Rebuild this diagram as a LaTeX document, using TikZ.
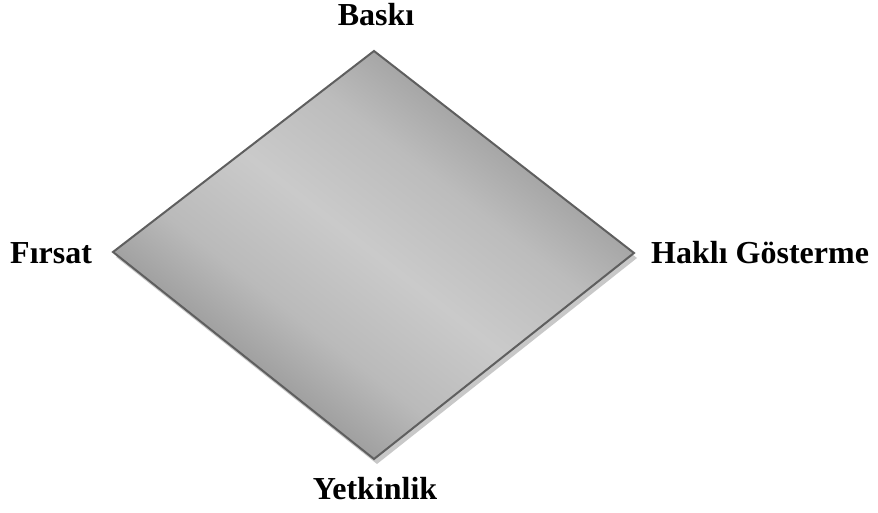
\documentclass[tikz,border=0pt]{standalone}
\usepackage{fontspec}
\setmainfont{Liberation Serif}
\definecolor{edgegray}{RGB}{95,95,95}
\definecolor{shadowgray}{RGB}{200,200,200}
\definecolor{fillA}{RGB}{160,160,160}
\definecolor{fillB}{RGB}{186,186,186}
\definecolor{fillC}{RGB}{202,202,202}
\definecolor{fillD}{RGB}{188,188,188}
\definecolor{fillE}{RGB}{166,166,166}
\pgfdeclareverticalshading{diamondshade}{100bp}{%
  color(0bp)=(fillA); color(25bp)=(fillA); color(35bp)=(fillB);
  color(50bp)=(fillC); color(65bp)=(fillD); color(75bp)=(fillE);
  color(100bp)=(fillE)}
\begin{document}
\begin{tikzpicture}[x=1pt,y=1pt,
  lbl/.style={font=\fontsize{32}{38}\selectfont\bfseries, inner sep=0pt}]
\useasboundingbox (0,0) rectangle (878,-513);
\coordinate (T) at (374,-51);
\coordinate (L) at (113,-252);
\coordinate (R) at (634,-253);
\coordinate (B) at (374,-459);
% shadow
\fill[shadowgray] ([shift={(3,-5)}]T) -- ([shift={(3,-5)}]R) -- ([shift={(3,-5)}]B) -- ([shift={(3,-5)}]L) -- cycle;
% diamond fill
\begin{scope}
  \clip (T) -- (R) -- (B) -- (L) -- cycle;
  \begin{scope}[transform canvas={shift={(373.6,-253.5)}, rotate=-37.8}]
    \shade[shading=diamondshade] (-400,-161.5) rectangle (400,161.5);
  \end{scope}
\end{scope}
\draw[edgegray, line width=2pt, line join=miter] (T) -- (R) -- (B) -- (L) -- cycle;
% labels
\node[lbl, anchor=base] (baski) at (376,-26) {Baskı};
\node[lbl, anchor=base west] (firsat) at (10,-263) {Fırsat};
\node[lbl, anchor=base west] (hakli) at (651,-263) {Haklı Gösterme};
\node[lbl, anchor=base] (yetkin) at (375,-499) {Yetkinlik};
\end{tikzpicture}
\end{document}
